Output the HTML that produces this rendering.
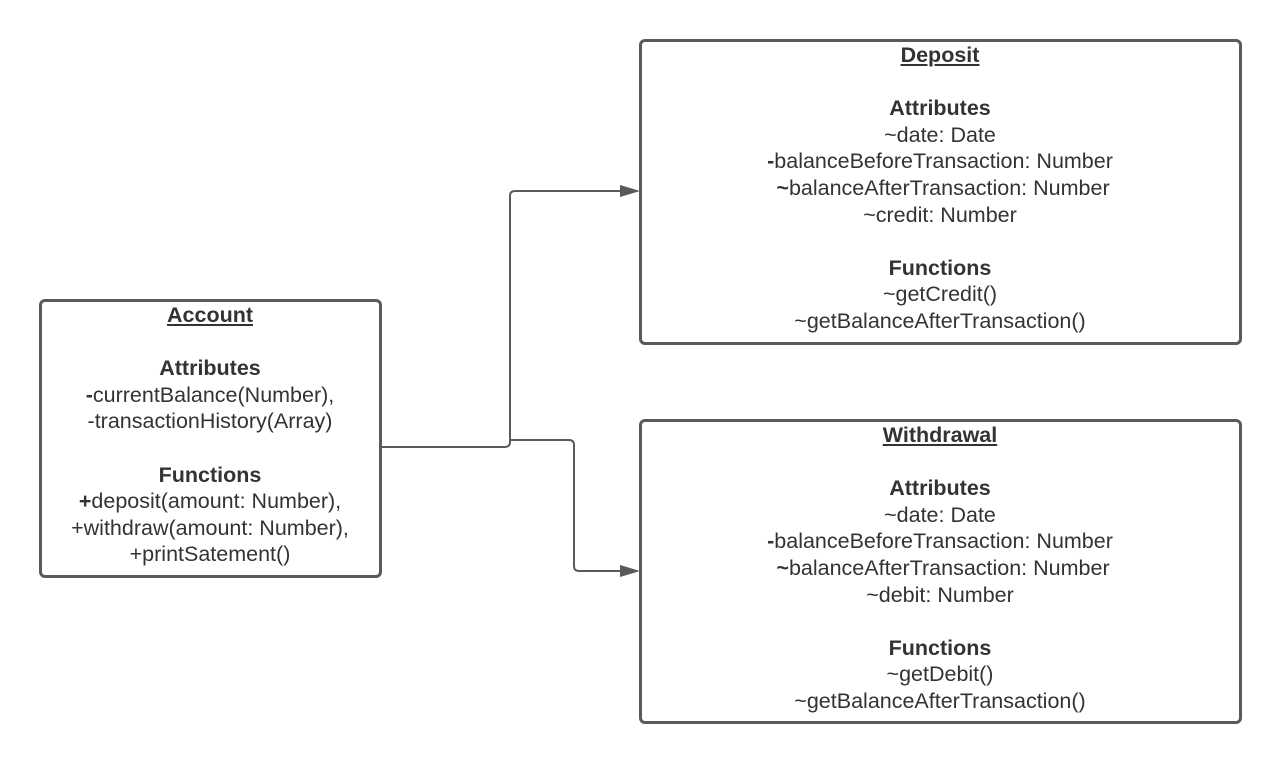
<!DOCTYPE html>
<html><head><style>
body{margin:0;width:1280px;height:763px;background:#fff;position:relative;overflow:hidden;font-family:"Liberation Sans",sans-serif;color:#333;}
.box{position:absolute;border:3px solid #5a5a5a;border-radius:6px;box-sizing:border-box;}
.t{position:absolute;left:0;right:0;text-align:center;font-size:21.5px;line-height:26.6px;white-space:nowrap;letter-spacing:0px;}
b{font-weight:bold;}
u{text-decoration:underline;}
</style></head><body>
<svg width="1280" height="763" style="position:absolute;left:0;top:0">
<g fill="none" stroke="#5a5a5a" stroke-width="2">
<path d="M381 447 H505 Q510 447 510 442 V196 Q510 191 515 191 H622"/>
<path d="M510 440 H569 Q574 440 574 445 V566 Q574 571 579 571 H622"/>
</g>
<polygon points="640,191 620,185 620,197" fill="#5a5a5a"/>
<polygon points="640,571 620,565 620,577" fill="#5a5a5a"/>
</svg>
<div class="box" style="left:39px;top:299px;width:343px;height:279px"></div>
<div class="t" style="left:40px;width:340px;right:auto;top:302px">
<b><u>Account</u></b><br><br><b>Attributes</b><br><b>-</b>currentBalance(Number),<br>-transactionHistory(Array)<br><br><b>Functions</b><br><b>+</b>deposit(amount: Number),<br>+withdraw(amount: Number),<br>+printSatement()
</div>
<div class="box" style="left:639px;top:39px;width:603px;height:306px"></div>
<div class="t" style="left:640px;width:600px;right:auto;top:42px">
<b><u>Deposit</u></b><br><br><b>Attributes</b><br>~date: Date<br><b>-</b>balanceBeforeTransaction: Number<br>&nbsp;<b>~</b>balanceAfterTransaction: Number<br>~credit: Number<br><br><b>Functions</b><br>~getCredit()<br>~getBalanceAfterTransaction()
</div>
<div class="box" style="left:639px;top:419px;width:603px;height:305px"></div>
<div class="t" style="left:640px;width:600px;right:auto;top:422px">
<b><u>Withdrawal</u></b><br><br><b>Attributes</b><br>~date: Date<br><b>-</b>balanceBeforeTransaction: Number<br>&nbsp;<b>~</b>balanceAfterTransaction: Number<br>~debit: Number<br><br><b>Functions</b><br>~getDebit()<br>~getBalanceAfterTransaction()
</div>
</body></html>
